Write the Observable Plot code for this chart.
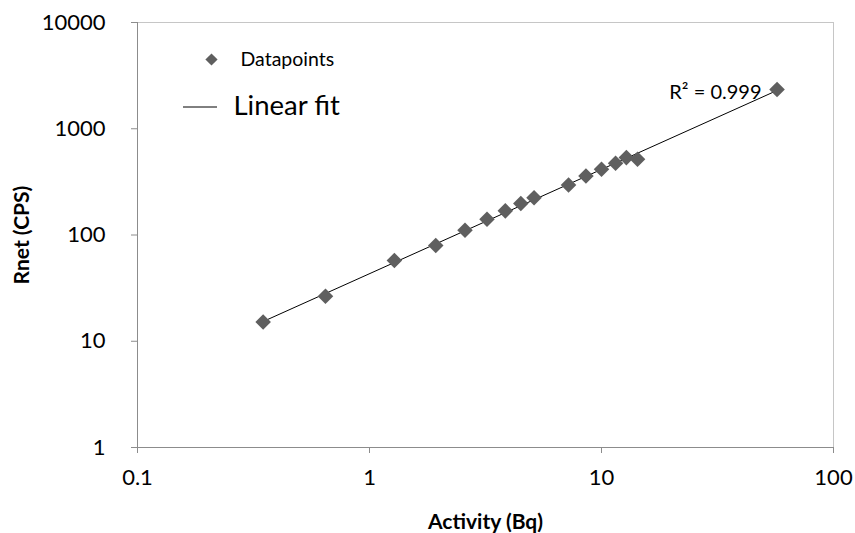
<!DOCTYPE html>
<html>
<head>
<meta charset="utf-8">
<script src="https://cdn.jsdelivr.net/npm/d3@7"></script>
<script src="https://cdn.jsdelivr.net/npm/@observablehq/plot@0.6"></script>
<style>
  html, body { margin: 0; padding: 0; background: #fff; }
  #chart { width: 855px; height: 533px; }
  svg { font-family: Lato, "Open Sans", sans-serif; }
</style>
</head>
<body>
<div id="chart"></div>
<script>
// Activity (Bq) vs net count rate (CPS)
const activity = [0.348, 0.646, 1.28, 1.93, 2.58, 3.21, 3.85, 4.49, 5.12, 7.21, 8.57, 10.0, 11.5, 12.8, 14.3, 57.1];
const rnet     = [15.2, 26.5, 57.5, 79.8, 110.7, 140.7, 168.7, 198, 224, 295, 359, 415, 473, 535, 516, 2339];
const xTicks = [0.1, 1, 10, 100];
const yTicks = [1, 10, 100, 1000, 10000];
const xTitle = "Activity (Bq)";
const yTitle = "Rnet (CPS)";
const legendLabels = ["Datapoints", "Linear fit"];
const r2Label = "R² = 0.999";

const data = activity.map((a, i) => ({x: a, y: rnet[i]}));
const pointColor = "#5f5f5f";

// custom legend line (layout only)
function legendLine(index, scales, values, dims) {
  const l = d3.create("svg:line")
    .attr("x1", dims.marginLeft + 46).attr("x2", dims.marginLeft + 80)
    .attr("y1", dims.marginTop + 85).attr("y2", dims.marginTop + 85)
    .attr("stroke", "#000").attr("stroke-width", 1);
  return l.node();
}

const chart = Plot.plot({
  width: 855,
  height: 533,
  marginLeft: 137,
  marginRight: 22,
  marginTop: 22,
  marginBottom: 86,
  style: {fontFamily: "Lato, 'Open Sans', sans-serif", background: "#fff"},
  x: {type: "log", domain: [xTicks[0], xTicks[xTicks.length - 1]]},
  y: {type: "log", domain: [yTicks[0], yTicks[yTicks.length - 1]]},
  marks: [
    Plot.frame({stroke: "#c6c6c6"}),
    Plot.ruleX([xTicks[0]], {stroke: "#8c8c8c"}),
    Plot.ruleY([yTicks[0]], {stroke: "#8c8c8c"}),
    Plot.axisX({ticks: xTicks, tickFormat: d => String(d), tickSize: 6, tickPadding: 16,
      fontSize: 22, stroke: "#8c8c8c", color: "#000", label: null}),
    Plot.axisY({ticks: yTicks, tickFormat: d => String(d), tickSize: 6, tickPadding: 26,
      fontSize: 22, stroke: "#8c8c8c", color: "#000", label: null}),
    Plot.linearRegressionY(data, {x: "x", y: "y", ci: 0, stroke: "#000", strokeWidth: 1}),
    Plot.dot(data, {x: "x", y: "y", symbol: "diamond2", r: 7, fill: pointColor, stroke: "none"}),
    // legend
    Plot.dot([legendLabels[0]], {frameAnchor: "top-left", dx: 74, dy: 37, symbol: "diamond2", r: 5.5, fill: pointColor}),
    Plot.text([legendLabels[0]], {text: d => d, frameAnchor: "top-left", dx: 103, dy: 37, textAnchor: "start", lineAnchor: "middle", fontSize: 19.5, fill: "#000"}),
    legendLine,
    Plot.text([legendLabels[1]], {text: d => d, frameAnchor: "top-left", dx: 96, dy: 84, textAnchor: "start", lineAnchor: "middle", fontSize: 27.5, fill: "#000"}),
    Plot.text([r2Label], {text: d => d, frameAnchor: "top-right", dx: -72, dy: 70, textAnchor: "end", lineAnchor: "middle", fontSize: 20, fill: "#000"}),
    // axis titles
    Plot.text([xTitle], {text: d => d, frameAnchor: "bottom", dy: 75, textAnchor: "middle", lineAnchor: "middle", fontSize: 21, fontWeight: "bold", fill: "#000"}),
    Plot.text([yTitle], {text: d => d, frameAnchor: "left", dx: -115, rotate: -90, textAnchor: "middle", lineAnchor: "middle", fontSize: 21, fontWeight: "bold", fill: "#000"})
  ]
});
document.getElementById("chart").appendChild(chart);
</script>
</body>
</html>
